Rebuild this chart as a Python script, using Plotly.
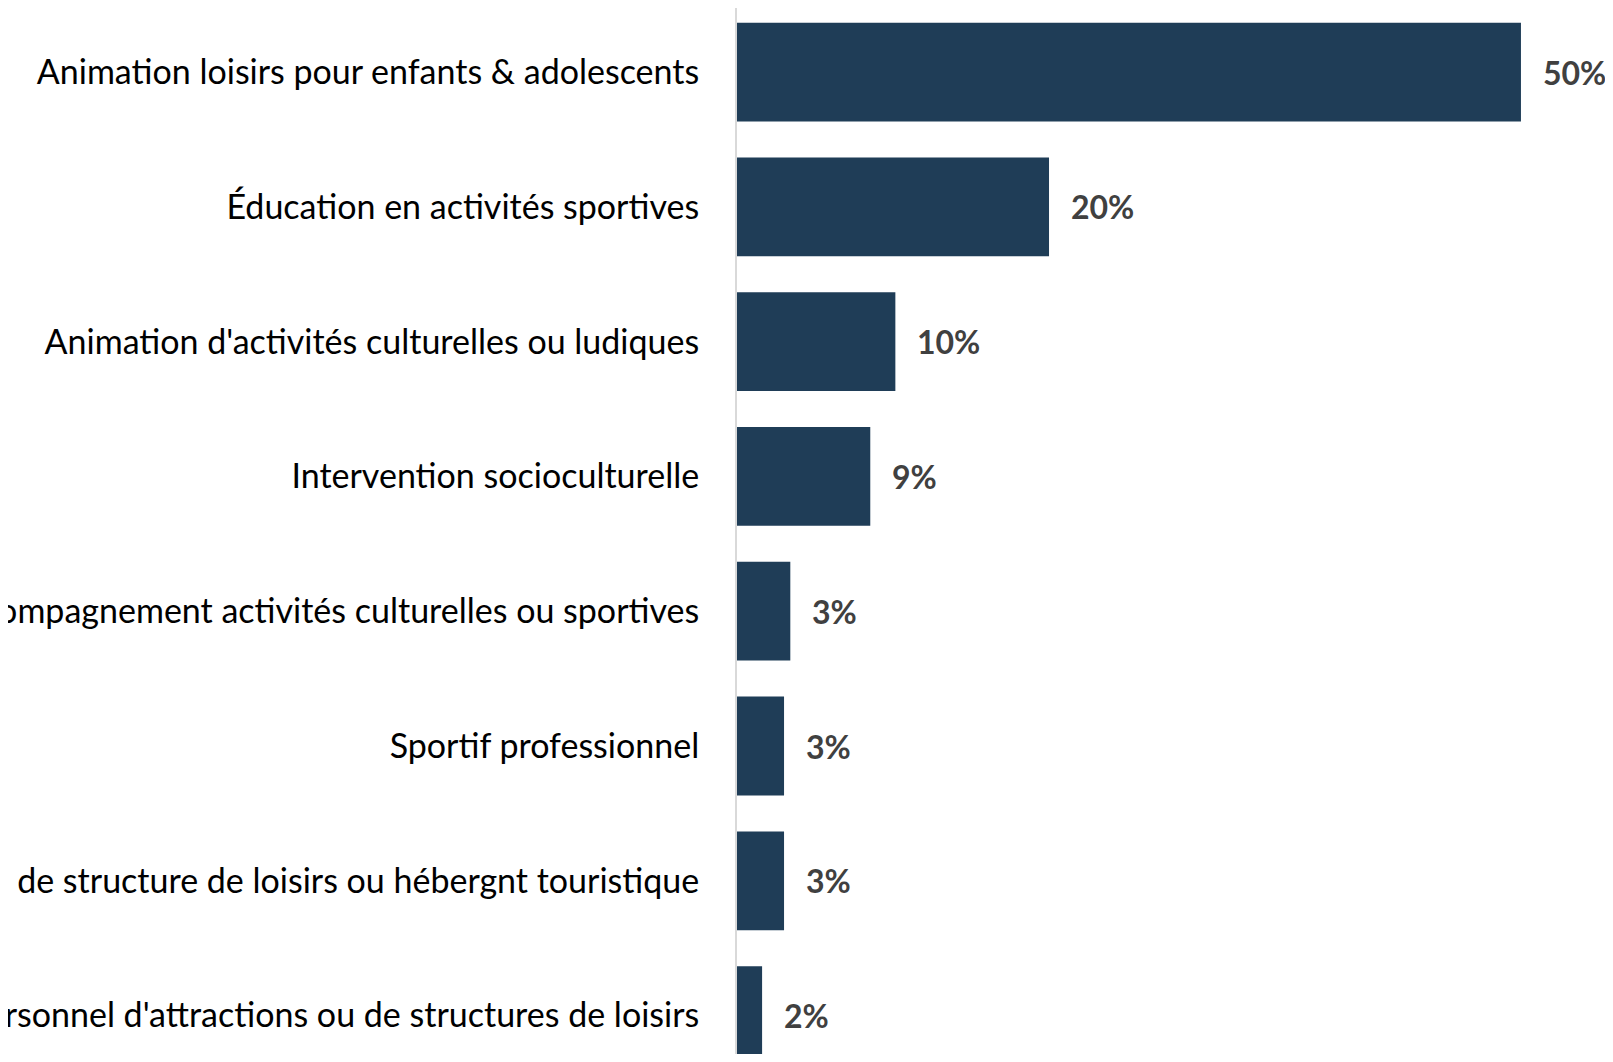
"""Horizontal bar chart: répartition par métier (recadré comme l'original)."""
import plotly.graph_objects as go

categories = [
    "Animation loisirs pour enfants & adolescents",
    "Éducation en activités sportives",
    "Animation d'activités culturelles ou ludiques",
    "Intervention socioculturelle",
    "Accompagnement activités culturelles ou sportives",
    "Sportif professionnel",
    "Direction de structure de loisirs ou hébergnt touristique",
    "Personnel d'attractions ou de structures de loisirs",
]
values = [50.0, 19.9, 10.1, 8.5, 3.4, 3.0, 3.0, 1.6]
value_labels = ["50%", "20%", "10%", "9%", "3%", "3%", "3%", "2%"]

BAR_COLOR = "#1F3D57"
FONT = "Lato"

fig = go.Figure(go.Bar(
    x=values,
    y=categories,
    orientation="h",
    marker=dict(color=BAR_COLOR, line=dict(width=0)),
    hoverinfo="skip",
))

# value labels to the right of each bar
annotations = [
    dict(
        x=v, y=c, xref="x", yref="y",
        text=f"<b>{t}</b>",
        showarrow=False,
        xanchor="left",
        xshift=20,
        font=dict(family=FONT, size=32, color="#404040"),
    )
    for c, v, t in zip(categories, values, value_labels)
]

# page body has an 8px margin; keep the figure inside the window (no scrollbars)
fig.update_layout(
    width=1597,
    height=1046,
    margin=dict(l=729, r=0, t=0, b=0),
    paper_bgcolor="white",
    plot_bgcolor="white",
    bargap=0.267,
    showlegend=False,
    annotations=annotations,
    xaxis=dict(
        range=[0, 55.36],
        visible=False,
        fixedrange=True,
    ),
    yaxis=dict(
        autorange=False,
        range=[7.285, -0.475],
        showline=True,
        linecolor="#D9D9D9",
        linewidth=2,
        showgrid=False,
        zeroline=False,
        ticks="",
        ticklabelstandoff=29,
        tickfont=dict(family=FONT, size=34, color="#000000"),
        automargin=False,
        fixedrange=True,
    ),
)

fig.write_html("out.html")
